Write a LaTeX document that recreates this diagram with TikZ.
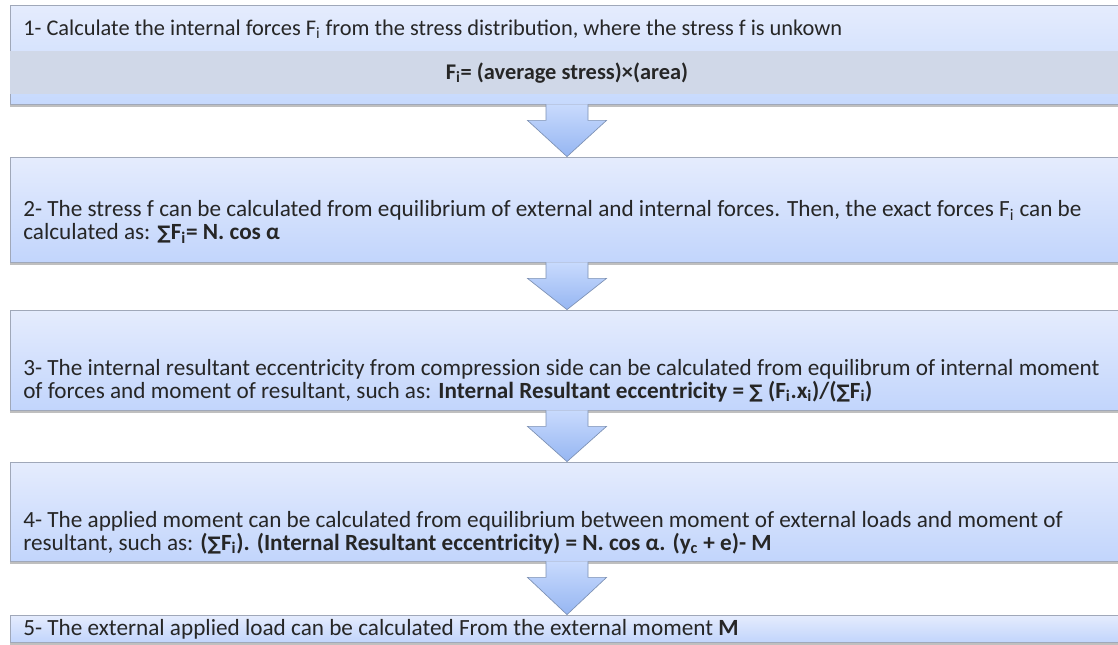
\documentclass[tikz,border=0pt]{standalone}
\usepackage{fontspec}
\setmainfont{Carlito}
\newfontfamily\symfont{DejaVu Sans}
\usetikzlibrary{shadows,calc}
\definecolor{boxtop}{RGB}{229,236,253}
\definecolor{boxbot}{RGB}{194,213,252}
\definecolor{boxline}{RGB}{160,168,185}
\definecolor{bandgray}{RGB}{208,216,232}
\definecolor{arrtop}{RGB}{200,218,253}
\definecolor{arrbot}{RGB}{150,182,242}
\definecolor{arrline}{RGB}{125,145,180}
\newcommand{\Sm}{{\symfont\fontsize{14pt}{14pt}\selectfont ∑}}
\newcommand{\sub}[1]{\textsubscript{#1}}
\newcommand{\downarrowblock}[2]{%
  \draw[blockarrow] ($(#1.south)+(-21,0)$) -- ($(#1.south)+(-21,16)$) -- ($(#1.south)+(-39.5,16)$) -- (#2.north) -- ($(#1.south)+(39.5,16)$) -- ($(#1.south)+(21,16)$) -- ($(#1.south)+(21,0)$);}
\begin{document}
\begin{tikzpicture}[x=0.75pt,y=-0.75pt,
  box/.style={draw=boxline, line width=0.6pt, top color=boxtop, bottom color=boxbot,
    minimum width=835.5pt, inner sep=0pt,
    drop shadow={shadow xshift=0pt, shadow yshift=-2.2pt, opacity=0.45, fill=black!55}},
  blockarrow/.style={draw=arrline, line width=0.5pt, top color=arrtop, bottom color=arrbot},
  txt/.style={anchor=west, align=left, inner sep=0pt, text=black!85,
    font=\fontsize{17.4pt}{17pt}\selectfont},
  txtc/.style={anchor=center, align=center, inner sep=0pt, text=black!85,
    font=\fontsize{16.8pt}{17pt}\selectfont\bfseries}]
\useasboundingbox (0,0) rectangle (1118,644);
\fill[white] (0,0) rectangle (1118,644);
\clip (0,0) rectangle (1118,644);
% boxes
\node[box, minimum height=74.25pt, top color={rgb,255:red,229;green,236;blue,253}, bottom color={rgb,255:red,198;green,217;blue,253}] (b1) at (567,54.5) {};
\fill[bandgray] ($(b1.north west)+(0.5,46)$) rectangle ($(b1.south east)+(-0.5,-10)$);
\node[box, minimum height=78.75pt] (b2) at (567,209.5) {};
\node[box, minimum height=75pt] (b3) at (567,360) {};
\node[box, minimum height=74.25pt] (b4) at (567,511.5) {};
\node[box, minimum height=20.25pt] (b5) at (567,628.5) {};
% arrows
\downarrowblock{b1}{b2}
\downarrowblock{b2}{b3}
\downarrowblock{b3}{b4}
\downarrowblock{b4}{b5}
% texts
\node[txt, font=\fontsize{16.8pt}{17pt}\selectfont] (t1) at (23,29) {1- Calculate the internal forces F\sub{i} from the stress distribution, where the stress f is unkown};
\node[txtc] (t1b) at (567,73) {F\sub{i}= (average stress)×(area)};
\node[txt] (t2) at (23,222) {2- The stress f can be calculated from equilibrium of external and internal forces. Then, the exact forces F\sub{i} can be\\calculated as: \textbf{\Sm F\sub{i}= N. cos α}};
\node[txt] (t3) at (23,380.5) {3- The internal resultant eccentricity from compression side can be calculated from equilibrum of internal moment\\of forces and moment of resultant, such as: \textbf{Internal Resultant eccentricity = \Sm\ (F\sub{i}.x\sub{i})/(\Sm F\sub{i})}};
\node[txt] (t4) at (23,532.5) {4- The applied moment can be calculated from equilibrium between moment of external loads and moment of\\resultant, such as: \textbf{(\Sm F\sub{i}). (Internal Resultant eccentricity) = N. cos α. (y\sub{c} + e)- M}};
\node[txt] (t5) at (23,629) {5- The external applied load can be calculated From the external moment \textbf{M}};
\end{tikzpicture}
\end{document}
